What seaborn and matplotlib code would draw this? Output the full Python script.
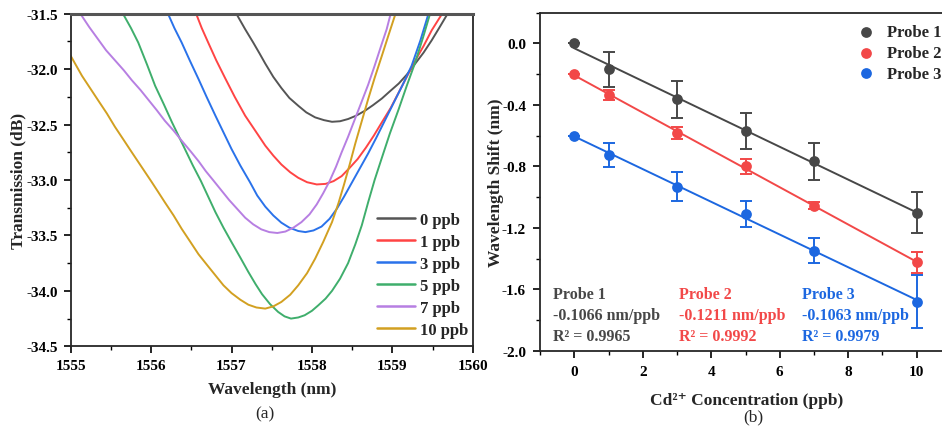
import numpy as np
import pandas as pd
import seaborn as sns
import matplotlib.pyplot as plt
from matplotlib.ticker import MultipleLocator, FormatStrFormatter
from matplotlib.lines import Line2D

# ---- panel (a): transmission spectra ----
wl_0 = [1557.06, 1557.17, 1557.27, 1557.35, 1557.42, 1557.52, 1557.62, 1557.72,
        1557.83, 1557.93, 1558.04, 1558.15, 1558.25, 1558.35, 1558.45, 1558.55,
        1558.66, 1558.76, 1558.87, 1558.97, 1559.08, 1559.18, 1559.28, 1559.39,
        1559.49, 1559.59, 1559.68]
tr_0 = [-31.50, -31.64, -31.76, -31.86, -31.95, -32.07, -32.17, -32.26,
        -32.33, -32.39, -32.435, -32.46, -32.475, -32.47, -32.45, -32.42,
        -32.375, -32.325, -32.265, -32.20, -32.13, -32.05, -31.955, -31.85,
        -31.74, -31.62, -31.51]
wl_1 = [1556.56, 1556.63, 1556.71, 1556.81, 1556.92, 1557.04, 1557.17, 1557.30,
        1557.42, 1557.52, 1557.62, 1557.73, 1557.83, 1557.94, 1558.06, 1558.17,
        1558.27, 1558.37, 1558.47, 1558.57, 1558.67, 1558.77, 1558.87, 1558.98,
        1559.08, 1559.18, 1559.28, 1559.39, 1559.49, 1559.62]
tr_1 = [-31.50, -31.63, -31.76, -31.92, -32.08, -32.25, -32.42, -32.56,
        -32.69, -32.78, -32.86, -32.93, -32.98, -33.02, -33.04, -33.035,
        -33.01, -32.965, -32.89, -32.81, -32.71, -32.60, -32.48, -32.35,
        -32.21, -32.07, -31.93, -31.79, -31.65, -31.50]
wl_3 = [1556.21, 1556.29, 1556.38, 1556.48, 1556.59, 1556.69, 1556.80, 1556.90,
        1557.00, 1557.11, 1557.23, 1557.32, 1557.42, 1557.52, 1557.62, 1557.72,
        1557.83, 1557.92, 1558.02, 1558.12, 1558.22, 1558.31, 1558.40, 1558.50,
        1558.60, 1558.70, 1558.80, 1558.91, 1559.02, 1559.13, 1559.24, 1559.35,
        1559.45]
tr_3 = [-31.50, -31.63, -31.76, -31.92, -32.09, -32.25, -32.42, -32.57,
        -32.72, -32.87, -33.02, -33.14, -33.24, -33.32, -33.385, -33.43,
        -33.46, -33.47, -33.455, -33.42, -33.35, -33.26, -33.15, -33.02,
        -32.89, -32.76, -32.62, -32.46, -32.30, -32.14, -31.97, -31.74,
        -31.50]
wl_5 = [1555.65, 1555.75, 1555.84, 1555.95, 1556.05, 1556.16, 1556.26, 1556.34,
        1556.42, 1556.52, 1556.62, 1556.71, 1556.80, 1556.90, 1557.00, 1557.11,
        1557.21, 1557.30, 1557.38, 1557.48, 1557.58, 1557.66, 1557.74, 1557.83,
        1557.91, 1558.00, 1558.08, 1558.17, 1558.25, 1558.35, 1558.45, 1558.54,
        1558.62, 1558.70, 1558.78, 1558.87, 1558.97, 1559.08, 1559.18, 1559.28,
        1559.38, 1559.47]
tr_5 = [-31.50, -31.63, -31.76, -31.96, -32.15, -32.32, -32.48, -32.60,
        -32.72, -32.87, -33.01, -33.15, -33.29, -33.43, -33.56, -33.70,
        -33.83, -33.94, -34.03, -34.12, -34.19, -34.23, -34.25, -34.24,
        -34.22, -34.18, -34.13, -34.07, -34.00, -33.89, -33.75, -33.58,
        -33.41, -33.20, -33.00, -32.80, -32.58, -32.36, -32.15, -31.95,
        -31.72, -31.50]
wl_7 = [1555.12, 1555.23, 1555.34, 1555.44, 1555.55, 1555.66, 1555.76, 1555.87,
        1555.97, 1556.07, 1556.17, 1556.28, 1556.38, 1556.49, 1556.59, 1556.68,
        1556.77, 1556.87, 1556.97, 1557.07, 1557.17, 1557.27, 1557.37, 1557.47,
        1557.57, 1557.67, 1557.77, 1557.87, 1557.97, 1558.06, 1558.14, 1558.22,
        1558.30, 1558.37, 1558.45, 1558.53, 1558.61, 1558.70, 1558.78, 1558.87,
        1558.93, 1558.98]
tr_7 = [-31.50, -31.62, -31.73, -31.83, -31.92, -32.01, -32.10, -32.19,
        -32.28, -32.37, -32.465, -32.555, -32.645, -32.74, -32.83, -32.92,
        -33.00, -33.09, -33.18, -33.26, -33.34, -33.40, -33.445, -33.47,
        -33.478, -33.465, -33.43, -33.38, -33.31, -33.22, -33.12, -33.01,
        -32.88, -32.75, -32.61, -32.46, -32.31, -32.14, -31.97, -31.77,
        -31.64, -31.50]
wl_10 = [1555.00, 1555.07, 1555.14, 1555.24, 1555.34, 1555.45, 1555.55, 1555.66,
         1555.76, 1555.88, 1556.00, 1556.09, 1556.17, 1556.28, 1556.38, 1556.49,
         1556.59, 1556.70, 1556.80, 1556.90, 1557.00, 1557.11, 1557.21, 1557.31,
         1557.42, 1557.52, 1557.62, 1557.73, 1557.83, 1557.94, 1558.04, 1558.14,
         1558.25, 1558.33, 1558.40, 1558.47, 1558.54, 1558.62, 1558.70, 1558.78,
         1558.87, 1558.95, 1559.04]
tr_10 = [-31.88, -31.97, -32.06, -32.17, -32.28, -32.40, -32.52, -32.64,
         -32.75, -32.88, -33.01, -33.11, -33.20, -33.32, -33.44, -33.56,
         -33.67, -33.77, -33.86, -33.95, -34.02, -34.08, -34.125, -34.15,
         -34.16, -34.14, -34.10, -34.035, -33.95, -33.84, -33.71, -33.56,
         -33.38, -33.21, -33.04, -32.86, -32.67, -32.47, -32.27, -32.08,
         -31.88, -31.70, -31.50]
spec_labels = ["0 ppb", "1 ppb", "3 ppb", "5 ppb", "7 ppb", "10 ppb"]
spec_colors = ["#555555", "#ff4444", "#2a72ea", "#3fae6c", "#b77fe2", "#d2a021"]

# ---- panel (b): wavelength shift vs concentration ----
conc = [0, 1, 3, 5, 7, 10]
shift_p1 = [0.0, -0.169, -0.362, -0.568, -0.767, -1.101]
shift_p2 = [-0.2015, -0.334, -0.585, -0.80, -1.055, -1.424]
shift_p3 = [-0.60, -0.726, -0.932, -1.109, -1.348, -1.679]
err_p1 = [0.0, 0.114, 0.12, 0.116, 0.122, 0.132]
err_p2 = [0.0, 0.031, 0.039, 0.05, 0.024, 0.068]
err_p3 = [0.0, 0.081, 0.095, 0.087, 0.081, 0.171]
probe_names = ["Probe 1", "Probe 2", "Probe 3"]
probe_colors = ["#474747", "#f24848", "#1c67e0"]
slopes_txt = ["-0.1066 nm/ppb", "-0.1211 nm/ppb", "-0.1063 nm/ppb"]
r2_txt = ["0.9965", "0.9992", "0.9979"]

sns.set_style("ticks")
plt.rcParams['font.family'] = ['Liberation Serif', 'DejaVu Serif']
plt.rcParams['font.weight'] = 'bold'
plt.rcParams['axes.linewidth'] = 1.3
for a in ['x', 'y']:
    plt.rcParams[f'{a}tick.direction'] = 'out'
    plt.rcParams[f'{a}tick.major.size'] = 5
    plt.rcParams[f'{a}tick.minor.size'] = 3
    plt.rcParams[f'{a}tick.major.width'] = 1.2
    plt.rcParams[f'{a}tick.minor.width'] = 1.0
    plt.rcParams[f'{a}tick.minor.visible'] = True
    plt.rcParams[f'{a}tick.color'] = 'black'

fig = plt.figure(figsize=(9.42, 4.27), dpi=100)
W, H = 942, 427
ax1 = fig.add_axes([70.7 / W, 1 - 347.3 / H, 402 / W, 332.6 / H])
ax2 = fig.add_axes([540 / W, 1 - 352 / H, 411 / W, 338.4 / H])

# spectra
frames = []
for wl, tr, lab in zip([wl_0, wl_1, wl_3, wl_5, wl_7, wl_10],
                       [tr_0, tr_1, tr_3, tr_5, tr_7, tr_10], spec_labels):
    frames.append(pd.DataFrame({"wl": wl, "tr": tr, "conc": lab}))
spec = pd.concat(frames, ignore_index=True)
sns.lineplot(data=spec, x="wl", y="tr", hue="conc", hue_order=spec_labels,
             palette=spec_colors, sort=False, estimator=None, lw=1.4,
             ax=ax1, legend=False)
ax1.set_xlim(1555, 1560)
ax1.set_ylim(-34.5, -31.5)
ax1.xaxis.set_major_locator(MultipleLocator(1))
ax1.xaxis.set_minor_locator(MultipleLocator(0.5))
ax1.yaxis.set_major_locator(MultipleLocator(0.5))
ax1.yaxis.set_minor_locator(MultipleLocator(0.25))
ax1.yaxis.set_major_formatter(FormatStrFormatter('%.1f'))
ax1.tick_params(labelsize=11, pad=4)
ax1.spines['top'].set_linewidth(2.2)
ax1.spines['top'].set_color('#555555')
ax1.set_xlabel("Wavelength (nm)", fontsize=12.5, fontweight='bold')
ax1.set_ylabel("Transmission (dB)", fontsize=12.5, fontweight='bold')
ax1.xaxis.set_label_coords(0.5, -0.105)
ax1.yaxis.set_label_coords(-0.11, 0.5)
handles = [Line2D([], [], color=c, lw=1.8) for c in spec_colors]
ax1.legend(handles, spec_labels, loc='lower right', bbox_to_anchor=(1.015, -0.005),
           frameon=False, prop={'size': 12, 'weight': 'bold'}, handlelength=2.3,
           handletextpad=0.3, labelspacing=0.36, borderaxespad=0.2)

# shift vs concentration
for sh, er, name, col in zip([shift_p1, shift_p2, shift_p3],
                             [err_p1, err_p2, err_p3], probe_names, probe_colors):
    df = pd.DataFrame({"conc": conc, "shift": sh})
    sns.regplot(data=df, x="conc", y="shift", ci=None, scatter=False,
                color=col, line_kws={"lw": 1.4}, ax=ax2)
    ax2.errorbar(conc, sh, yerr=er, fmt='none', ecolor=col, elinewidth=1.4,
                 capsize=4, capthick=1.4)
    sns.scatterplot(data=df, x="conc", y="shift", color=col, s=60,
                    edgecolor=col, linewidth=0, ax=ax2, label=name, zorder=5)

ax2.set_xlim(-1, 11)
ax2.set_ylim(-2.0, 0.2)
ax2.xaxis.set_major_locator(MultipleLocator(2))
ax2.xaxis.set_minor_locator(MultipleLocator(1))
ax2.yaxis.set_major_locator(MultipleLocator(0.4))
ax2.yaxis.set_minor_locator(MultipleLocator(0.2))
ax2.yaxis.set_major_formatter(FormatStrFormatter('%.1f'))
ax2.tick_params(labelsize=11, pad=5)
ax2.set_xlabel("Cd²⁺ Concentration (ppb)", fontsize=12.5, fontweight='bold')
ax2.set_ylabel("Wavelength Shift (nm)", fontsize=12.5, fontweight='bold')
ax2.xaxis.set_label_coords(0.503, -0.12)
ax2.yaxis.set_label_coords(-0.088, 0.5)
ax2.legend(loc='upper right', bbox_to_anchor=(1.005, 1.0), frameon=False,
           prop={'size': 12, 'weight': 'bold'}, handletextpad=0.25,
           labelspacing=0.28, borderaxespad=0.3)

for i, (name, col) in enumerate(zip(probe_names, probe_colors)):
    x0 = [-0.63, 3.06, 6.64][i]
    ax2.text(x0, -1.63, name, color=col, fontsize=11.5, fontweight='bold', va='center')
    ax2.text(x0, -1.765, slopes_txt[i], color=col, fontsize=11.5, fontweight='bold',
             va='center')
    ax2.text(x0, -1.905, "R² = " + r2_txt[i], color=col, fontsize=11.5,
             fontweight='bold', va='center')

fig.text(265 / W, 1 - 414 / H, "(a)", ha='center', va='center', fontsize=12.5,
         fontweight='normal')
fig.text(753 / W, 1 - 417 / H, "(b)", ha='center', va='center', fontsize=12.5,
         fontweight='normal')

# make sure every tick label (created lazily at draw time) is bold
fig.canvas.draw()
for ax in (ax1, ax2):
    plt.setp(ax.get_xticklabels() + ax.get_yticklabels(), fontweight='bold')

fig.savefig("out.png", dpi=100)
